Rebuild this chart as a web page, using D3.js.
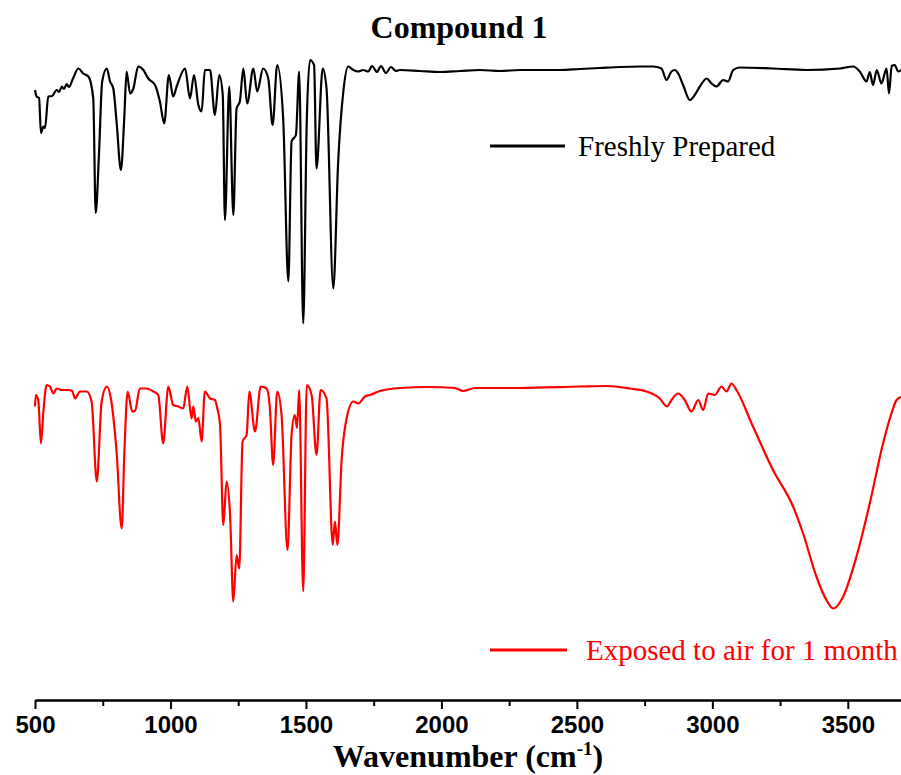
<!DOCTYPE html>
<html>
<head>
<meta charset="utf-8">
<script src="https://cdn.jsdelivr.net/npm/d3@7"></script>
<style>
  html, body { margin: 0; padding: 0; background: #ffffff; }
  svg { display: block; }
</style>
</head>
<body>
<svg id="chart" width="901" height="775"></svg>
<script>
// FTIR spectra of Compound 1 (stacked, transmittance in arbitrary units)
const chartTitle = "Compound 1";
const seriesNames = ["Freshly Prepared", "Exposed to air for 1 month"];
const seriesColors = ["#000000", "#ff0000"];

const majorTicks = [500, 1000, 1500, 2000, 2500, 3000, 3500];
const minorTicks = [750, 1250, 1750, 2250, 2750, 3250];

// Freshly prepared sample
const freshWavenumber = [
  500, 506, 515, 522, 531, 537, 549, 563, 580, 589, 599, 607, 617, 625, 641, 660, 678, 697, 715, 724,
  736, 748, 765, 777, 789, 801, 817, 830, 838, 851, 863, 881, 900, 918, 943, 961, 977, 994, 1010, 1023,
  1054, 1072, 1087, 1103, 1115, 1127, 1146, 1164, 1180, 1193, 1201, 1217, 1232, 1244, 1256, 1269, 1283, 1306, 1320, 1342,
  1361, 1377, 1394, 1416, 1435, 1447, 1463, 1475, 1490, 1503, 1515, 1530, 1539, 1562, 1576, 1601, 1619, 1638, 1656, 1675,
  1693, 1711, 1730, 1744, 1762, 1777, 1795, 1814, 1832, 1847, 1921, 1995, 2068, 2142, 2216, 2290, 2363, 2437, 2511, 2585,
  2659, 2733, 2782, 2812, 2831, 2849, 2862, 2874, 2892, 2917, 2935, 2954, 2979, 2997, 3015, 3040, 3058, 3077, 3101, 3223,
  3348, 3471, 3520, 3544, 3569, 3581, 3593, 3607, 3624, 3643, 3652, 3662, 3673, 3686, 3700
];
const freshTransmittance = [
  122, 120.7, 120.4, 113.4, 114.7, 114.4, 120.7, 120.8, 122, 121.6, 122.7, 122.2, 123.2, 122.6, 124.4, 126.3, 125.3, 124.7, 120.3, 97.4,
  109, 123.7, 126.3, 123.7, 122.3, 115.7, 106, 117, 125.7, 121.3, 122.3, 126.7, 126, 124.3, 123, 119.7, 115.3, 125, 120.7, 122.7,
  126.3, 120.3, 125, 119, 117.7, 126, 126, 117, 125, 121, 96, 122.7, 97, 118.3, 119.7, 126.3, 119.3, 126.3, 121.7, 126.3,
  124.3, 115, 127, 116.3, 83.7, 111.7, 113, 125.7, 75.3, 115.7, 128, 127, 106.3, 126.3, 122.3, 82.3, 107.7, 121.7, 126.7, 126,
  125.7, 126, 125.7, 126.8, 125.6, 126.8, 125.4, 126.6, 125.8, 126, 125.8, 125.6, 125.8, 126, 125.8, 126, 126, 126, 126.2, 126.4,
  126.6, 126.7, 126.7, 126.3, 124, 125.7, 126, 125.3, 123, 120, 121, 122.7, 124.3, 123.3, 122.7, 124, 123.7, 126, 126.5, 126.3,
  126, 126.3, 126.7, 125.7, 123.7, 125.6, 123, 126, 123.3, 126.3, 121.3, 126.8, 127, 125.7, 126
];

// Same sample after one month in air
const agedWavenumber = [
  500, 503, 512, 522, 531, 543, 555, 568, 580, 599, 623, 637, 648, 666, 691, 709, 728, 746, 765, 780,
  801, 820, 830, 842, 859, 869, 887, 912, 937, 955, 973, 992, 1010, 1029, 1047, 1062, 1078, 1084, 1094, 1103,
  1115, 1127, 1146, 1164, 1173, 1183, 1195, 1207, 1220, 1232, 1244, 1254, 1266, 1281, 1291, 1312, 1333, 1355, 1367, 1379,
  1394, 1410, 1432, 1447, 1459, 1467, 1475, 1490, 1503, 1521, 1539, 1554, 1576, 1599, 1607, 1616, 1632, 1650, 1675, 1693,
  1718, 1736, 1773, 1847, 1958, 2050, 2080, 2124, 2290, 2511, 2610, 2696, 2757, 2806, 2833, 2849, 2874, 2898, 2923, 2948,
  2966, 2985, 3009, 3034, 3052, 3071, 3089, 3150, 3224, 3298, 3335, 3384, 3421, 3446, 3483, 3532, 3581, 3630, 3661, 3680,
  3700
];
const agedTransmittance = [
  58.7, 61, 60, 51.3, 57.7, 63, 62.7, 61.3, 62.3, 62, 62, 61.8, 60.3, 61.7, 61.7, 59.7, 43.7, 59.7, 62.7, 60.3,
  49.7, 34.3, 49.7, 61.7, 57.7, 57.8, 62.3, 62.3, 61.7, 61, 51.3, 62.7, 59, 58.7, 58.3, 62.7, 56.3, 58.7, 55.7, 56.4,
  51.7, 61.7, 60.3, 60, 58.3, 55, 35, 43.7, 37, 19.7, 29, 26.3, 51.7, 53, 61.7, 53.7, 62.7, 62.3, 58.3, 47,
  61.7, 57, 30, 53, 57, 54.4, 62, 21.7, 63, 61, 49, 62, 60.3, 31, 35.7, 31, 48.3, 56.3, 59.7, 59.3,
  60.7, 61, 61.8, 62.4, 62.6, 62.4, 61.8, 62.4, 62.4, 62.7, 62.8, 62.3, 61.7, 60.3, 58.7, 60, 61.3, 60, 57.7, 60,
  58, 61.3, 61, 62.7, 61.7, 63.3, 62, 54.7, 46, 38.7, 33.3, 24.7, 20, 18.3, 20.7, 28.7, 39.3, 51.3, 57.3, 60,
  60.7
];

const svg = d3.select("#chart");
const W = 901, H = 775;
const plot = { left: 35, right: 902, top: 50, bottom: 700 };

const x = d3.scaleLinear().domain([500, 3700]).range([plot.left, plot.right]);
const y = d3.scaleLinear().domain([0, 130]).range([plot.bottom, plot.top]);

svg.append("rect").attr("width", W).attr("height", H).attr("fill", "#ffffff");

svg.append("defs").append("clipPath").attr("id", "plotClip")
  .append("rect").attr("x", 0).attr("y", 0).attr("width", W).attr("height", plot.bottom - 2);

const line = d3.line()
  .x(d => x(d[0]))
  .y(d => y(d[1]))
  .curve(d3.curveMonotoneX);

const spectra = [
  d3.zip(freshWavenumber, freshTransmittance),
  d3.zip(agedWavenumber, agedTransmittance)
];

svg.append("g").attr("clip-path", "url(#plotClip)")
  .selectAll("path.spectrum")
  .data(spectra)
  .join("path")
  .attr("class", "spectrum")
  .attr("d", line)
  .attr("fill", "none")
  .attr("stroke", (d, i) => seriesColors[i])
  .attr("stroke-width", 2.2)
  .attr("stroke-linejoin", "round");

// bottom axis: major ticks with labels, minor ticks without
const axisG = svg.append("g").attr("transform", `translate(0,${plot.bottom})`);
axisG.call(d3.axisBottom(x).tickValues(majorTicks).tickFormat(d3.format("d"))
  .tickSize(9).tickSizeOuter(0).tickPadding(7));
axisG.select(".domain").attr("stroke", "#000").attr("stroke-width", 2.6);
axisG.selectAll(".tick line").attr("stroke", "#000").attr("stroke-width", 2);
axisG.selectAll(".tick text")
  .attr("fill", "#000")
  .style("font-family", "'Liberation Sans', Arial, sans-serif")
  .style("font-weight", "bold")
  .style("font-size", "24px");

const minorG = svg.append("g").attr("transform", `translate(0,${plot.bottom})`);
minorG.call(d3.axisBottom(x).tickValues(minorTicks).tickSize(6).tickSizeOuter(0).tickFormat(""));
minorG.select(".domain").remove();
minorG.selectAll(".tick line").attr("stroke", "#000").attr("stroke-width", 2);

// axis title
const xTitle = svg.append("text")
  .attr("x", 468).attr("y", 767)
  .attr("text-anchor", "middle")
  .style("font-family", "'Liberation Serif', 'Times New Roman', serif")
  .style("font-weight", "bold")
  .style("font-size", "32px")
  .attr("fill", "#000");
xTitle.append("tspan").text("Wavenumber (cm");
xTitle.append("tspan").attr("dy", -12).style("font-size", "19px").text("-1");
xTitle.append("tspan").attr("dy", 12).text(")");

// chart title
svg.append("text")
  .attr("x", 459).attr("y", 38)
  .attr("text-anchor", "middle")
  .style("font-family", "'Liberation Serif', 'Times New Roman', serif")
  .style("font-weight", "bold")
  .style("font-size", "32px")
  .attr("fill", "#000")
  .text(chartTitle);

// legend entries
const legendItems = [
  { name: seriesNames[0], color: seriesColors[0], y: 146, x1: 490, x2: 565, tx: 578 },
  { name: seriesNames[1], color: seriesColors[1], y: 650, x1: 490, x2: 567, tx: 586 }
];
const legend = svg.append("g").selectAll("g").data(legendItems).join("g");
legend.append("line")
  .attr("x1", d => d.x1).attr("x2", d => d.x2)
  .attr("y1", d => d.y).attr("y2", d => d.y)
  .attr("stroke", d => d.color).attr("stroke-width", 3.2);
legend.append("text")
  .attr("x", d => d.tx).attr("y", d => d.y + 10)
  .attr("fill", d => d.color)
  .style("font-family", "'Liberation Serif', 'Times New Roman', serif")
  .style("font-size", "29px")
  .text(d => d.name);
</script>
</body>
</html>
